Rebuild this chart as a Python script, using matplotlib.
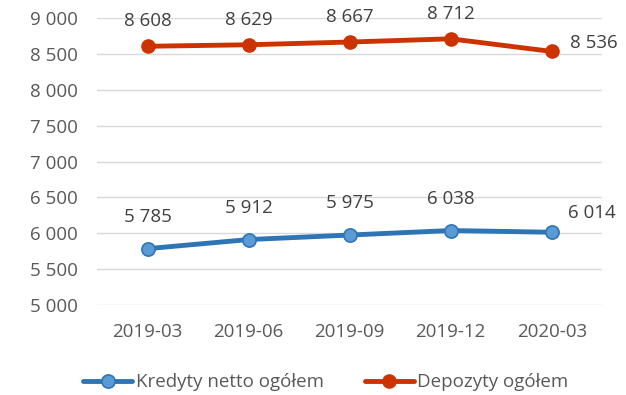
import matplotlib
matplotlib.use("Agg")
import matplotlib.pyplot as plt

plt.rcParams['font.family'] = ['Open Sans', 'DejaVu Sans']

# Quarterly totals
periods = ['2019-03', '2019-06', '2019-09', '2019-12', '2020-03']
kredyty = [5785, 5912, 5975, 6038, 6014]
depozyty = [8608, 8629, 8667, 8712, 8536]
yticks = [5000, 5500, 6000, 6500, 7000, 7500, 8000, 8500, 9000]


def fmt(v):
    return f"{v:,}".replace(",", " ")


fig = plt.figure(figsize=(6.26, 3.95), dpi=100)
ax = fig.add_axes([0.155, 0.228, 0.807, 0.726])

x = list(range(len(periods)))
ax.plot(x, kredyty, color='#2E75B6', lw=3.5, marker='o', ms=9.5,
        mfc='#5B9BD5', mec='#2E75B6', mew=1.2, label='Kredyty netto ogółem',
        solid_capstyle='round', zorder=3)
ax.plot(x, depozyty, color='#CC3300', lw=3.5, marker='o', ms=9.5,
        mfc='#CC3300', mec='#CC3300', label='Depozyty ogółem',
        solid_capstyle='round', zorder=3)

fs = 13.5
# value labels
for i, v in enumerate(kredyty):
    if i == len(kredyty) - 1:
        ax.annotate(fmt(v), (i, v), xytext=(12, 14), textcoords='offset points',
                    ha='left', va='center', fontsize=fs, color='#404040')
    else:
        ax.annotate(fmt(v), (i, v), xytext=(0, 23), textcoords='offset points',
                    ha='center', va='center', fontsize=fs, color='#404040')
for i, v in enumerate(depozyty):
    if i == len(depozyty) - 1:
        ax.annotate(fmt(v), (i, v), xytext=(13, 6), textcoords='offset points',
                    ha='left', va='center', fontsize=fs, color='#404040')
    else:
        ax.annotate(fmt(v), (i, v), xytext=(0, 18), textcoords='offset points',
                    ha='center', va='center', fontsize=fs, color='#404040')

ax.set_xlim(-0.5, len(periods) - 0.5)
ax.set_ylim(5000, 9000)
ax.set_yticks(yticks)
ax.set_yticklabels([fmt(t) for t in yticks])
ax.set_xticks(x)
ax.set_xticklabels(periods)
ax.tick_params(axis='both', length=0, labelsize=fs, labelcolor='#595959')
ax.tick_params(axis='y', pad=14)
ax.tick_params(axis='x', pad=13)
ax.grid(axis='y', color='#D9D9D9', lw=1)
ax.set_axisbelow(True)
for s in ax.spines.values():
    s.set_visible(False)

ax.legend(loc='center', bbox_to_anchor=(0.453, -0.27), ncol=2,
          frameon=False, fontsize=fs, handlelength=2.6, handletextpad=0.2,
          columnspacing=2.2, labelcolor='#595959')

fig.savefig('out.png', dpi=100)
